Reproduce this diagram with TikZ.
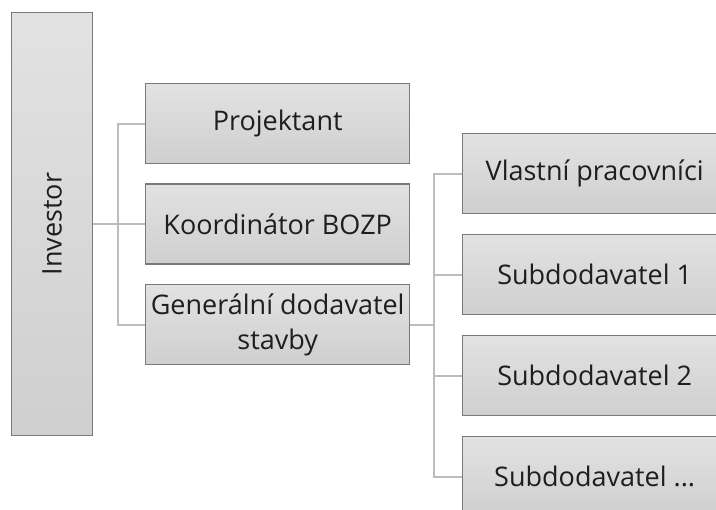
\documentclass[tikz,border=0pt]{standalone}
\usepackage{fontspec}
\setmainfont{Open Sans}
\definecolor{boxtop}{HTML}{E2E2E2}
\definecolor{boxbot}{HTML}{CFCFCF}
\definecolor{boxline}{HTML}{7A7A7A}
\definecolor{connline}{HTML}{BDBDBD}
\definecolor{txt}{HTML}{1E1E1E}
\begin{document}
\begin{tikzpicture}[x=1pt,y=-1pt,
  box/.style={draw=boxline, line width=1.4pt, top color=boxtop, bottom color=boxbot,
    anchor=north west, minimum width=264pt, minimum height=80pt, inner sep=0pt,
    text=txt, font=\fontsize{27}{35}\selectfont, align=center},
  conn/.style={draw=connline, line width=2pt}]
\useasboundingbox (0,0) rectangle (716,510);
\clip (0,0) rectangle (716,510);
\node[box, minimum width=81pt, minimum height=423pt,
  label={[rotate=90, text=txt, font=\fontsize{27}{35}\selectfont]center:Investor}] (inv) at (11,12) {};
\node[box] (proj) at (145,83) {Projektant};
\node[box] (koord) at (145,183.5) {Koordinátor BOZP};
\node[box] (gen) at (145,284) {Generální dodavatel\\stavby};
\node[box] (vl) at (462,133) {Vlastní pracovníci};
\node[box] (s1) at (462,234) {Subdodavatel 1};
\node[box] (s2) at (462,335) {Subdodavatel 2};
\node[box] (s3) at (462,436) {Subdodavatel ...};
\coordinate (j1) at (118,0);
\coordinate (j2) at (434,0);
\draw[conn] (inv.east) -- (koord.west);
\draw[conn] (proj.west) -- (proj.west -| j1) -- (gen.west -| j1) -- (gen.west);
\draw[conn] (gen.east) -- (gen.east -| j2);
\draw[conn] (vl.west) -- (vl.west -| j2) -- (s3.west -| j2) -- (s3.west);
\draw[conn] (s1.west) -- (s1.west -| j2);
\draw[conn] (s2.west) -- (s2.west -| j2);
\end{tikzpicture}
\end{document}
